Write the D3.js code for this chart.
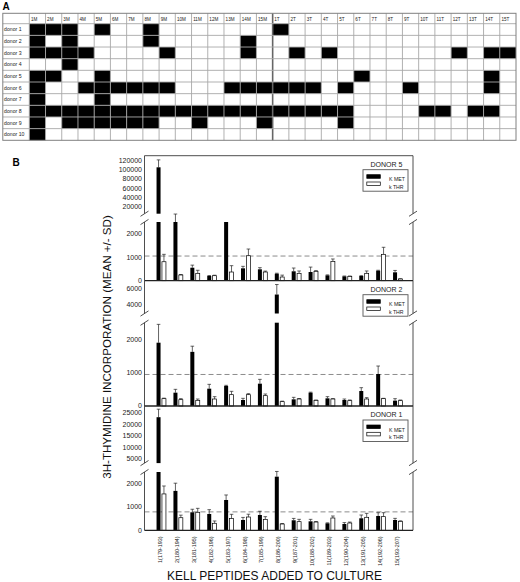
<!DOCTYPE html>
<html>
<head>
<meta charset="utf-8">
<script src="https://cdn.jsdelivr.net/npm/d3@7"></script>
<style>
  html, body { margin: 0; padding: 0; background: #fff; }
  svg { display: block; font-family: "Liberation Sans", Arial, sans-serif; }
</style>
</head>
<body>
<svg id="chart" width="520" height="582"></svg>
<script>
// ---------------- DATA ----------------
// Panel A
const peptideCols = ["1M","2M","3M","4M","5M","6M","7M","8M","9M","10M","11M","12M","13M","14M","15M",
                     "1T","2T","3T","4T","5T","6T","7T","8T","9T","10T","11T","12T","13T","14T","15T"];
const donorRows = ["donor 1","donor 2","donor 3","donor 4","donor 5","donor 6","donor 7","donor 8","donor 9","donor 10"];
const positiveDonor1  = ["1M","2M","3M","5M","8M","1T"];
const positiveDonor2  = ["1M","3M","8M","14M"];
const positiveDonor3  = ["1M","2M","3M","4M","9M","14M","2T","4T","12T","14T","15T"];
const positiveDonor4  = ["3M"];
const positiveDonor5  = ["1M","2M","5M","6T","14T"];
const positiveDonor6  = ["1M","4M","5M","6M","7M","8M","9M","13M","14M","15M","1T","2T","3T","5T","9T","14T"];
const positiveDonor7  = ["1M","5M"];
const positiveDonor8  = ["1M","2M","3M","4M","5M","6M","7M","8M","9M","10M","11M","12M","13M","14M","15M",
                         "1T","2T","3T","4T","5T","10T","11T","13T","14T"];
const positiveDonor9  = ["1M","3M","4M","5M","6M","7M","8M","11M","15M","5T"];
const positiveDonor10 = ["1M"];
const positives = [positiveDonor1, positiveDonor2, positiveDonor3, positiveDonor4, positiveDonor5,
                   positiveDonor6, positiveDonor7, positiveDonor8, positiveDonor9, positiveDonor10];

// Panel B
const peptides = ["1(179-193)","2(180-194)","3(181-195)","4(182-196)","5(183-197)","6(184-198)","7(185-199)",
                  "8(186-200)","9(187-201)","10(188-202)","11(189-203)","12(190-204)","13(191-205)","14(192-206)","15(193-207)"];
const donorNames = ["DONOR 5","DONOR 2","DONOR 1"];
const seriesNames = ["K MET","k THR"];

const kmetDonor5   = [105000, 3000, 553, 200, 2700, 527, 485, 298, 400, 370, 228, 185, 200, 425, 357];
const kmetDonor5SD = [16000, 1900, 110, 20, 0, 85, 70, 20, 140, 210, 20, 15, 15, 20, 80];
const kthrDonor5   = [808, 243, 314, 213, 370, 1064, 370, 157, 314, 400, 825, 185, 314, 1123, 72];
const kthrDonor5SD = [315, 20, 130, 20, 270, 285, 40, 80, 100, 30, 100, 15, 100, 300, 10];

const kmetDonor2   = [1900, 400, 1625, 520, 600, 180, 670, 5230, 200, 400, 230, 180, 450, 960, 160];
const kmetDonor2SD = [550, 100, 170, 130, 20, 50, 130, 1280, 60, 15, 50, 30, 100, 240, 60];
const kthrDonor2   = [220, 190, 170, 210, 340, 340, 310, 130, 210, 170, 210, 160, 210, 220, 160];
const kthrDonor2SD = [15, 30, 40, 70, 100, 30, 50, 15, 15, 10, 10, 20, 40, 10, 20];

const kmetDonor1   = [23100, 1690, 772, 700, 1300, 442, 657, 2300, 430, 385, 300, 270, 515, 614, 442];
const kmetDonor1SD = [3500, 330, 130, 185, 215, 110, 160, 230, 80, 85, 20, 60, 140, 140, 70];
const kthrDonor1   = [1560, 540, 772, 300, 500, 570, 470, 270, 370, 355, 528, 313, 557, 585, 385];
const kthrDonor1SD = [340, 110, 170, 100, 185, 120, 115, 20, 100, 20, 85, 40, 170, 170, 20];

const cutoffs = [1050, 946, 790];

const lowerTicks = [0, 1000, 2000];
const upperTicksDonor5 = [20000, 40000, 60000, 80000, 100000, 120000];
const upperTicksDonor2 = [4000, 6000];
const upperTicksDonor1 = [5000, 10000, 15000, 20000, 25000];

// broken-axis domains: [lower max, upper min, upper max]
const breakDomainDonor5 = [2500, 5000, 130000];
const breakDomainDonor2 = [2500, 2800, 7000];
const breakDomainDonor1 = [2500, 3000, 28000];

// ---------------- DRAW ----------------
const svg = d3.select("#chart");
svg.append("rect").attr("width", 520).attr("height", 582).attr("fill", "#fff");

// ===== Panel A =====
svg.append("text").attr("x", 2.5).attr("y", 9.8).attr("font-size", 10).attr("font-weight", "bold").text("A");

const gA = svg.append("g");
const gridLeft = 2.8, labelColRight = 29.3, gridRight = 516, headTop = 13.3, headBottom = 23.7, gridBottom = 140.3;
const xA = d3.scaleBand().domain(peptideCols).range([labelColRight, gridRight]);
const yA = d3.scaleBand().domain(donorRows).range([headBottom, gridBottom]);

// black cells
donorRows.forEach((d, i) => {
  gA.selectAll(null).data(positives[i]).enter().append("rect")
    .attr("x", c => xA(c)).attr("y", yA(d))
    .attr("width", xA.bandwidth()).attr("height", yA.bandwidth())
    .attr("fill", "#000");
});
// grid lines
const gridColor = "#a8a8a8";
peptideCols.forEach((c, i) => {
  if (i === 0) return;
  const thick = c === "1T";
  gA.append("line").attr("x1", xA(c)).attr("x2", xA(c)).attr("y1", headTop).attr("y2", gridBottom)
    .attr("stroke", thick ? "#666" : gridColor).attr("stroke-width", thick ? 1.6 : 0.9);
});
gA.append("line").attr("x1", labelColRight).attr("x2", labelColRight).attr("y1", headTop).attr("y2", gridBottom)
  .attr("stroke", gridColor).attr("stroke-width", 0.9);
donorRows.forEach((d, i) => {
  gA.append("line").attr("x1", gridLeft).attr("x2", gridRight).attr("y1", yA(d)).attr("y2", yA(d))
    .attr("stroke", gridColor).attr("stroke-width", 0.9);
});
gA.append("rect").attr("x", gridLeft).attr("y", headTop).attr("width", gridRight - gridLeft).attr("height", gridBottom - headTop)
  .attr("fill", "none").attr("stroke", "#808080").attr("stroke-width", 1);
// header labels
gA.selectAll(".hl").data(peptideCols).enter().append("text")
  .attr("x", c => xA(c) + 1.6).attr("y", (headTop + headBottom) / 2 + 2)
  .attr("font-size", 4.6).attr("fill", "#222").text(c => c);
// donor labels
gA.selectAll(".dl").data(donorRows).enter().append("text")
  .attr("x", 4).attr("y", d => yA(d) + yA.bandwidth() / 2 + 1.8)
  .attr("font-size", 5.2).attr("fill", "#222").text(d => d);

// ===== Panel B =====
svg.append("text").attr("x", 12.5).attr("y", 166).attr("font-size", 10).attr("font-weight", "bold").text("B");

const plotLeft = 144.5, plotRight = 413;
const xB = d3.scaleBand().domain(peptides).range([152.8, 406.2]);
const barW = 4;

const panelDefs = [
  { top: 155.7, zero: 280.7, lowerH: 58.7, gap: 8.3, dom: breakDomainDonor5, upTicks: upperTicksDonor5,
    met: kmetDonor5, metSD: kmetDonor5SD, thr: kthrDonor5, thrSD: kthrDonor5SD, cut: cutoffs[0], name: donorNames[0] },
  { top: 280.7, zero: 406.0, lowerH: 83.3, gap: 9.2, dom: breakDomainDonor2, upTicks: upperTicksDonor2,
    met: kmetDonor2, metSD: kmetDonor2SD, thr: kthrDonor2, thrSD: kthrDonor2SD, cut: cutoffs[1], name: donorNames[1] },
  { top: 406.0, zero: 530.3, lowerH: 58.3, gap: 8.9, dom: breakDomainDonor1, upTicks: upperTicksDonor1,
    met: kmetDonor1, metSD: kmetDonor1SD, thr: kthrDonor1, thrSD: kthrDonor1SD, cut: cutoffs[2], name: donorNames[2] }
];

const frameColor = "#3a3a3a";

panelDefs.forEach((p, pi) => {
  const g = svg.append("g");
  const [lowMax, upMin, upMax] = p.dom;
  const lowTop = p.zero - p.lowerH, upBottom = lowTop - p.gap;
  const y = d3.scaleLinear().domain([0, lowMax, upMin, upMax]).range([p.zero, lowTop, upBottom, p.top]);

  // threshold dashed line
  g.append("line").attr("x1", plotLeft).attr("x2", plotRight).attr("y1", y(p.cut)).attr("y2", y(p.cut))
    .attr("stroke", "#8c8c8c").attr("stroke-width", 1).attr("stroke-dasharray", "5,3");

  // bars
  const series = [
    { vals: p.met, sd: p.metSD, off: -4.7, fill: "#000" },
    { vals: p.thr, sd: p.thrSD, off: 0.7, fill: "#fff" }
  ];
  series.forEach(s => {
    peptides.forEach((cat, i) => {
      const v = s.vals[i], sd = s.sd[i];
      const cx = xB(cat) + xB.bandwidth() / 2;
      const bx = cx + s.off;
      const lowV = Math.min(v, lowMax);
      const strokeAttr = s.fill === "#fff" ? "#000" : "none";
      // error bar
      if (sd > 0) {
        const yStart = v > lowMax && v < upMin ? y(lowMax) : y(v);
        const yEnd = y(v + sd);
        g.append("line").attr("x1", bx + barW / 2).attr("x2", bx + barW / 2).attr("y1", yStart).attr("y2", yEnd)
          .attr("stroke", "#222").attr("stroke-width", 0.7);
        g.append("line").attr("x1", bx + 0.2).attr("x2", bx + barW - 0.2).attr("y1", yEnd).attr("y2", yEnd)
          .attr("stroke", "#222").attr("stroke-width", 0.7);
      }
      g.append("rect").attr("x", bx).attr("y", y(lowV)).attr("width", barW).attr("height", y(0) - y(lowV))
        .attr("fill", s.fill).attr("stroke", strokeAttr).attr("stroke-width", 0.7);
      if (v > upMin) {
        g.append("rect").attr("x", bx).attr("y", y(v)).attr("width", barW).attr("height", y(upMin) - y(v))
          .attr("fill", s.fill).attr("stroke", strokeAttr).attr("stroke-width", 0.7);
      }
    });
  });

  // axes (broken) left and right
  [plotLeft, plotRight].forEach(ax => {
    g.append("line").attr("x1", ax).attr("x2", ax).attr("y1", p.zero).attr("y2", lowTop)
      .attr("stroke", frameColor).attr("stroke-width", 0.9);
    g.append("line").attr("x1", ax).attr("x2", ax).attr("y1", upBottom).attr("y2", p.top)
      .attr("stroke", frameColor).attr("stroke-width", 0.9);
    [lowTop, upBottom].forEach(by => {
      g.append("line").attr("x1", ax - 4).attr("x2", ax + 4).attr("y1", by + 2.6).attr("y2", by - 2.6)
        .attr("stroke", frameColor).attr("stroke-width", 0.9);
    });
  });
  // top frame for first panel
  if (pi === 0) {
    g.append("line").attr("x1", plotLeft).attr("x2", plotRight).attr("y1", p.top).attr("y2", p.top)
      .attr("stroke", frameColor).attr("stroke-width", 0.9);
  }
  // zero line
  g.append("line").attr("x1", plotLeft).attr("x2", plotRight).attr("y1", p.zero).attr("y2", p.zero)
    .attr("stroke", "#222").attr("stroke-width", 1.3);

  // tick labels
  const ticks = lowerTicks.concat(p.upTicks);
  g.selectAll(".tk").data(ticks).enter().append("text")
    .attr("x", plotLeft - 2.5).attr("y", t => y(t)).attr("dy", "0.35em")
    .attr("text-anchor", "end").attr("font-size", 7).attr("fill", "#222").text(t => t);

  // legend
  const lgX = 363, lgW = 45, lgTop = p.top + 14, lgH = 21.5;
  g.append("text").attr("x", 386.5).attr("y", p.top + 11).attr("text-anchor", "middle")
    .attr("font-size", 7).attr("fill", "#222").text(p.name);
  g.append("rect").attr("x", lgX).attr("y", lgTop).attr("width", lgW).attr("height", lgH)
    .attr("fill", "#fff").attr("stroke", "#555").attr("stroke-width", 0.9);
  seriesNames.forEach((nm, k) => {
    g.append("rect").attr("x", lgX + 3.8).attr("y", lgTop + 5 + k * 7.3).attr("width", 13.5).attr("height", 3.6)
      .attr("fill", k === 0 ? "#000" : "#fff").attr("stroke", "#000").attr("stroke-width", 0.7);
    g.append("text").attr("x", lgX + 26).attr("y", lgTop + 11.5 + k * 7.6)
      .attr("font-size", 5.2).attr("fill", "#222").text(nm);
  });
});

// x category labels
svg.selectAll(".xl").data(peptides).enter().append("text")
  .attr("transform", c => `translate(${xB(c) + xB.bandwidth() / 2 + 0.8},536.5) rotate(-90)`)
  .attr("text-anchor", "end").attr("font-size", 5.4).attr("fill", "#222").text(c => c);

// axis titles
svg.append("text").attr("transform", "translate(110.5,347) rotate(-90)").attr("text-anchor", "middle")
  .attr("font-size", 11.6).attr("fill", "#111").text("3H-THYMIDINE INCORPORATION (MEAN +/- SD)");
svg.append("text").attr("x", 274.5).attr("y", 579.8).attr("text-anchor", "middle")
  .attr("font-size", 12).attr("fill", "#111").text("KELL PEPTIDES ADDED TO CULTURE");
</script>
</body>
</html>
